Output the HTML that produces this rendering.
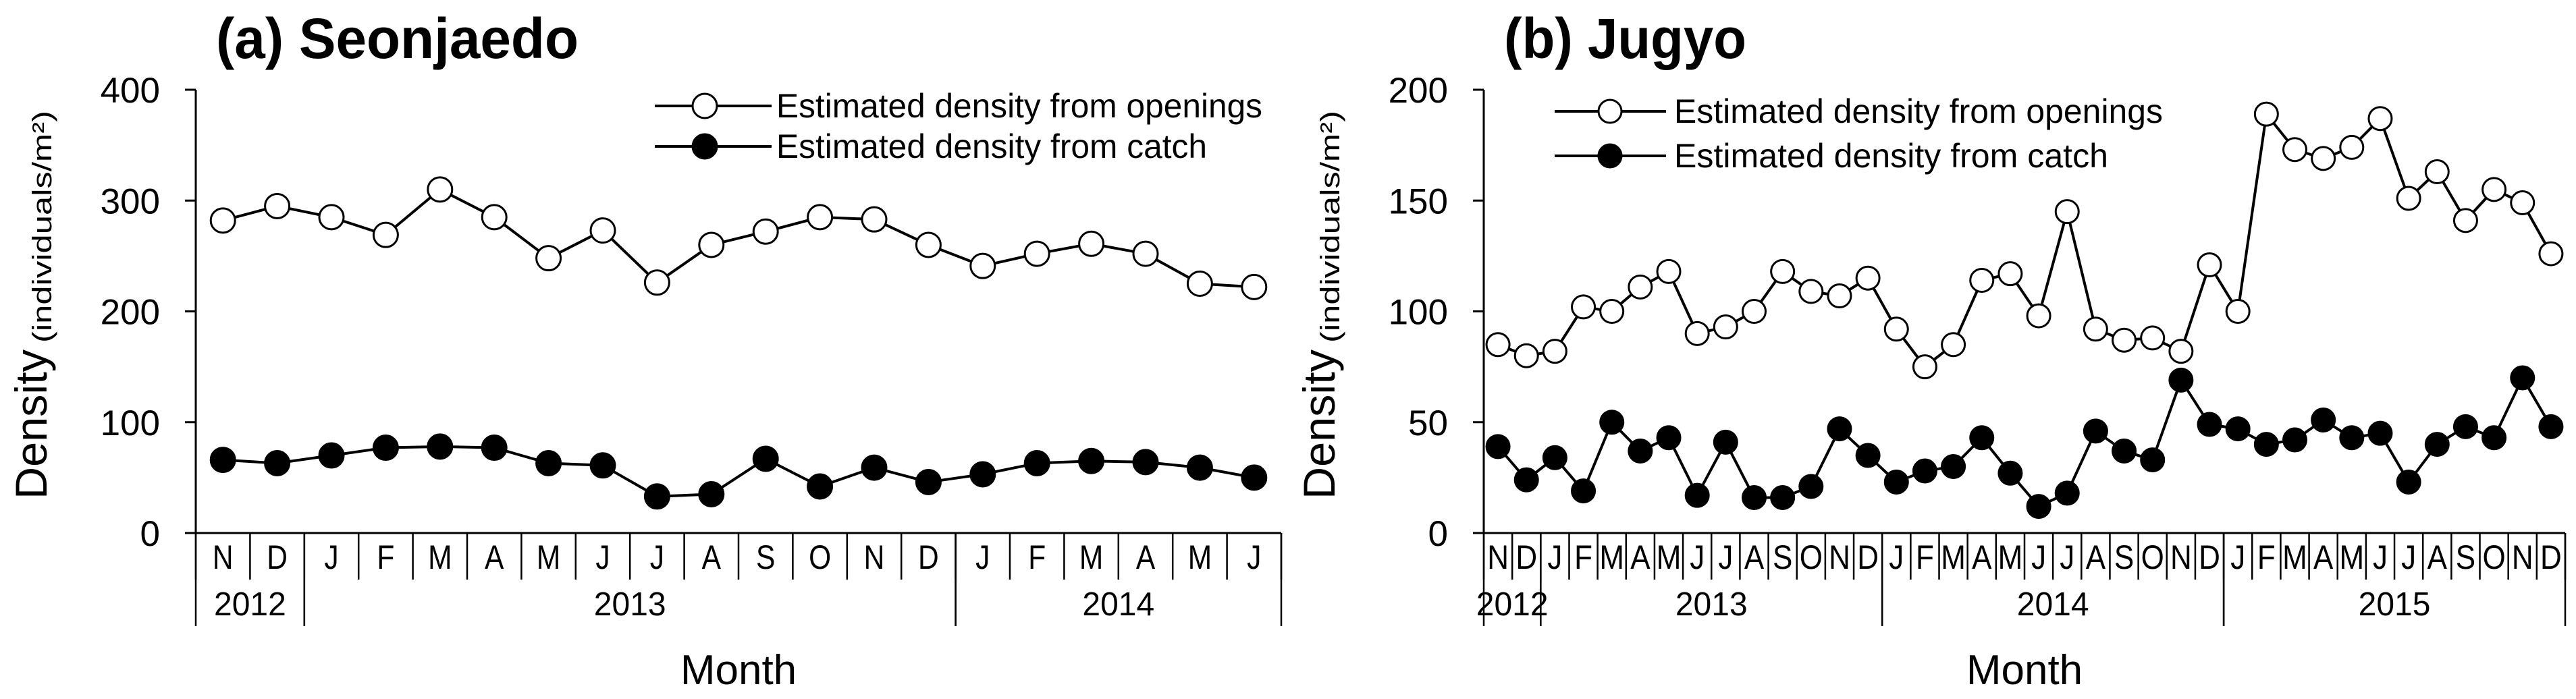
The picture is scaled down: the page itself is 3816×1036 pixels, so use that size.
<!DOCTYPE html>
<html><head><meta charset="utf-8"><style>
html,body{margin:0;padding:0;background:#fff;}
svg{display:block;font-family:"Liberation Sans",sans-serif;}
</style></head><body>
<svg id="chart" width="3816" height="1036" viewBox="0 0 3816 1036" xmlns="http://www.w3.org/2000/svg"></svg>
<script>
const leftMonths = ["N","D","J","F","M","A","M","J","J","A","S","O","N","D","J","F","M","A","M","J"];
const leftOpenings = [282,295,285,269,310,285,248,273,226,260,272,285,283,260,241,252,261,252,225,222];
const leftCatch = [66,63,70,77,78,77,63,61,33,35,67,42,59,46,53,63,65,64,59,50];
const leftYears = [["2012",0,2],["2013",2,14],["2014",14,20]];
const leftTicks = [0,100,200,300,400];

const rightMonths = ["N","D","J","F","M","A","M","J","J","A","S","O","N","D","J","F","M","A","M","J","J","A","S","O","N","D","J","F","M","A","M","J","J","A","S","O","N","D"];
const rightOpenings = [85,80,82,102,100,111,118,90,93,100,118,109,107,115,92,75,85,114,117,98,145,92,87,88,82,121,100,189,173,169,174,187,151,163,141,155,149,126];
const rightCatch = [39,24,34,19,50,37,43,17,41,16,16,21,47,35,23,28,30,43,27,12,18,46,37,33,69,49,47,40,42,51,43,45,23,40,48,43,70,48];
const rightYears = [["2012",0,2],["2013",2,14],["2014",14,26],["2015",26,38]];
const rightTicks = [0,50,100,150,200];

const NS="http://www.w3.org/2000/svg";
const svg=document.getElementById('chart');
function mk(tag,attrs,parent,text){
  const e=document.createElementNS(NS,tag);
  for(const k in attrs)e.setAttribute(k,attrs[k]);
  if(text!==undefined)e.textContent=text;
  (parent||svg).appendChild(e);return e;
}
function ct(parent,x,y,size,anchor,str,sx,extra){
  const a=Object.assign({x:0,y:0,'font-size':size,'text-anchor':anchor,transform:`translate(${x},${y}) scale(${sx},1)`},extra||{});
  return mk('text',a,parent,str);
}
function panel(cfg){
  const g=mk('g',{});
  
  
  const x0=cfg.x0,x1=cfg.x1,yTop=133,yBot=790;
  const n=cfg.months.length,step=(x1-x0)/n;
  const xs=i=>x0+step*(i+0.5);
  const ys=v=>yBot-(v/cfg.ymax)*(yBot-yTop);
  const t=mk('text',{x:cfg.x0+30,y:86,'font-size':84,'font-weight':'bold',textLength:cfg.titleW,lengthAdjust:'spacingAndGlyphs'},g,cfg.title);
  
  const ya=mk('line',{x1:x0,y1:yTop,x2:x0,y2:yBot,stroke:'#000','stroke-width':3},g);
  
  cfg.ticks.forEach(v=>{
    mk('line',{x1:x0-16,y1:ys(v),x2:x0,y2:ys(v),stroke:'#000','stroke-width':3},g);
    const tl=mk('text',{x:x0-53,y:ys(v)+19,'font-size':53,'text-anchor':'end'},g,String(v));
    
  });
  const xa=mk('line',{x1:x0-16,y1:yBot,x2:x1,y2:yBot,stroke:'#000','stroke-width':3},g);
  
  for(let i=0;i<=n;i++){
    mk('line',{x1:x0+step*i,y1:yBot,x2:x0+step*i,y2:859,stroke:'#000','stroke-width':2.5},g);
  }
  cfg.months.forEach((m,i)=>{
    const ml=ct(g,xs(i),843,50,'middle',m,cfg.msx);
    
  });
  cfg.years.forEach(([yr,a,b])=>{
    mk('line',{x1:x0+step*a,y1:yBot,x2:x0+step*a,y2:928,stroke:'#000','stroke-width':2.5},g);
    mk('line',{x1:x0+step*b,y1:yBot,x2:x0+step*b,y2:928,stroke:'#000','stroke-width':2.5},g);
    const yl=ct(g,x0+step*(a+b)/2,912,49,'middle',yr,0.98);
    
  });
  const xt=ct(g,(x0+x1)/2,1014,62,'middle','Month',1);
  
  const yt=mk('g',{},g);
  
  mk('text',{transform:`translate(${x0-221},740) rotate(-90)`,'font-size':66,textLength:222,lengthAdjust:'spacingAndGlyphs'},yt,'Density');
  mk('text',{transform:`translate(${x0-214},508) rotate(-90)`,'font-size':40,textLength:344,lengthAdjust:'spacingAndGlyphs'},yt,'(individuals/m²)');
  function series(vals,fill,name){
    const pts=vals.map((v,i)=>xs(i)+','+ys(v)).join(' ');
    const pl=mk('polyline',{points:pts,fill:'none',stroke:'#000','stroke-width':4},g);
    
    vals.forEach((v,i)=>{
      const c=mk('circle',{cx:xs(i),cy:ys(v),r:cfg.r,fill:fill,stroke:'#000','stroke-width':3},g);
      
    });
  }
  series(cfg.open,'#fff','openings');
  series(cfg.catchv,'#000','catch');
  const L=cfg.leg;
  [[L.y1,'#fff','Estimated density from openings','legend-openings',L.w1],[L.y2,'#000','Estimated density from catch','legend-catch',L.w2]].forEach(([y,f,txt,nm,w])=>{
    const lg=mk('g',{},g);
    
    mk('line',{x1:L.x1,y1:y,x2:L.x2,y2:y,stroke:'#000','stroke-width':4},lg);
    mk('circle',{cx:L.cx,cy:y,r:cfg.r,fill:f,stroke:'#000','stroke-width':3},lg);
    mk('text',{x:L.tx,y:y+17,'font-size':50,textLength:w,lengthAdjust:'spacingAndGlyphs'},lg,txt);
  });
}
panel({name:'panel-seonjaedo',title:'(a) Seonjaedo',titleW:537,x0:290,x1:1898,ymax:400,ticks:leftTicks,months:leftMonths,years:leftYears,open:leftOpenings,catchv:leftCatch,msx:0.85,r:18,
  leg:{x1:970,x2:1143,cx:1044,tx:1150,y1:157,y2:217,w1:720,w2:638}});
panel({name:'panel-jugyo',title:'(b) Jugyo',titleW:359,x0:2198,x1:3800,ymax:200,ticks:rightTicks,months:rightMonths,years:rightYears,open:rightOpenings,catchv:rightCatch,msx:0.88,r:17,
  leg:{x1:2303,x2:2468,cx:2385,tx:2480,y1:165,y2:231,w1:724,w2:643}});
</script>
</body></html>
